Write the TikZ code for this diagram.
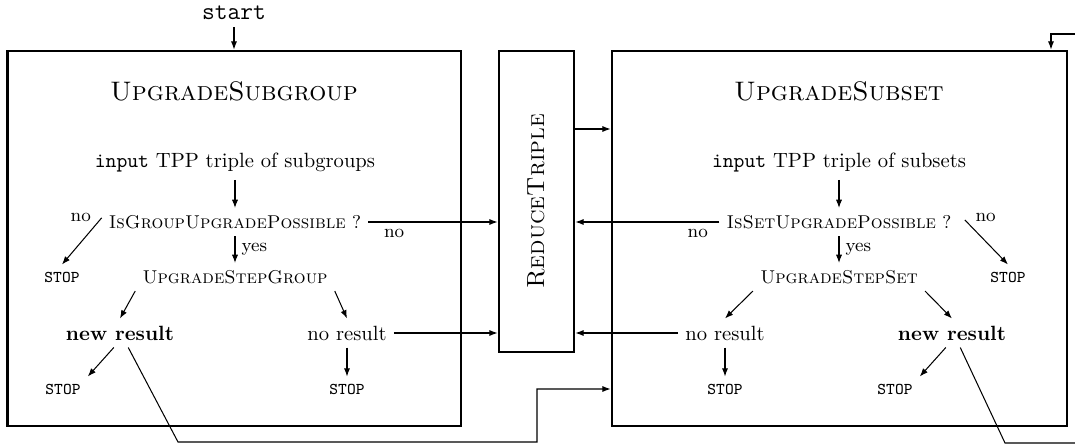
\documentclass[tikz,border=0pt]{standalone}
\usepackage{amsmath}
\usepackage{tikz}
\usetikzlibrary{arrows.meta,fit}

\begin{document}
\begin{tikzpicture}[x=0.485pt,y=-0.485pt,
	bigbox/.style={draw,line width=1.4pt,inner sep=0pt},
	arr/.style={-{Latex[length=4pt,width=3pt]},line width=0.5pt},
	title/.style={font=\fontsize{13}{15}\selectfont},
	proc/.style={font=\small},
	stopnode/.style={font=\footnotesize\ttfamily},
	lbl/.style={font=\small,inner sep=0pt}]
	\useasboundingbox (0,0) rectangle (1075,446);
	% the three frames
	\coordinate (g1) at (7.5,51); \coordinate (g2) at (461,426);
	\coordinate (r1) at (499,51); \coordinate (r2) at (574,352);
	\coordinate (s1) at (612,51); \coordinate (s2) at (1067,426);
	\node[bigbox,fit=(g1)(g2)] (subgroup) {};
	\node[bigbox,fit=(r1)(r2)] (reduce) {};
	\node[bigbox,fit=(s1)(s2)] (subset) {};
	\node[rotate=90,font=\large] (reducename) at (reduce.center) {\textsc{ReduceTriple}};
	% subgroup side
	\node[font=\large\ttfamily] (start) at (234,13) {start};
	\node[title] (titleg) at (234,91) {\textsc{UpgradeSubgroup}};
	\node (ing) at (235,163) {\texttt{input} TPP triple of subgroups};
	\node[proc] (isg) at (235,222) {\textsc{IsGroupUpgradePossible} ?};
	\node[proc] (stepg) at (235,277) {\textsc{UpgradeStepGroup}};
	\node[stopnode] (stopa) at (62,277) {STOP};
	\node[font=\bfseries] (newg) at (120,333) {new result};
	\node (noresg) at (347,333) {no result};
	\node[stopnode] (stopb) at (63,389) {STOP};
	\node[stopnode] (stopc) at (347,389) {STOP};
	% subset side
	\node[title] (titles) at (839,91) {\textsc{UpgradeSubset}};
	\node (ins) at (839,163) {\texttt{input} TPP triple of subsets};
	\node[proc] (iss) at (839,222) {\textsc{IsSetUpgradePossible} ?};
	\node[proc] (steps) at (839,277) {\textsc{UpgradeStepSet}};
	\node[stopnode] (stopd) at (1008,277) {STOP};
	\node (noress) at (725,333) {no result};
	\node[font=\bfseries] (news) at (952,333) {new result};
	\node[stopnode] (stope) at (725,389) {STOP};
	\node[stopnode] (stopf) at (895,389) {STOP};
	% free ends of the loops
	\coordinate (lowg) at (178,442);
	\coordinate (upg) at (537,389);
	\coordinate (lows) at (1005,443);
	\coordinate (tops) at (1075,34);
	% arrows, subgroup side
	\draw[arr] (start) -- (start |- subgroup.north);
	\draw[arr] (ing) -- (isg);
	\draw[arr] (isg) -- node[lbl,right=3pt] {yes} (stepg);
	\draw[arr] ([yshift=2pt]isg.west) -- node[lbl,pos=0,anchor=east,xshift=-5pt] {no} (stopa.north);
	\draw[arr] (isg.east) -- node[lbl,pos=0.2,below=3pt] {no} (isg.east -| reduce.west);
	\draw[arr] (stepg.south west) -- (newg.north);
	\draw[arr] (stepg.south east) -- (noresg.north);
	\draw[arr] (noresg) -- (stopc);
	\draw[arr] (noresg.east) -- (noresg.east -| reduce.west);
	\draw[arr] ([xshift=-3pt]newg.south) -- (stopb.north east);
	\draw[arr] ([xshift=4pt]newg.south) -- (lowg) -| (upg) -- (upg -| subset.west);
	% arrows, subset side
	\draw[arr] (reduce.east |- 0,129) -- (subset.west |- 0,129);
	\draw[arr] (ins) -- (iss);
	\draw[arr] (iss) -- node[lbl,right=3pt] {yes} (steps);
	\draw[arr] ([xshift=3pt,yshift=1pt]iss.east) -- node[lbl,pos=0,anchor=west,xshift=5pt,yshift=1pt] {no} (stopd.north);
	\draw[arr] (iss.west) -- node[lbl,pos=0.15,below=3pt] {no} (iss.west -| reduce.east);
	\draw[arr] (steps.south west) -- (noress.north);
	\draw[arr] (steps.south east) -- (news.north);
	\draw[arr] (noress) -- (stope);
	\draw[arr] (noress.west) -- (noress.west -| reduce.east);
	\draw[arr] ([xshift=-3pt]news.south) -- (stopf.north east);
	\draw[line width=0.5pt] ([xshift=4pt]news.south) -- (lows) -- (lows -| tops);
	\draw[arr] (tops) -| (1051,0 |- subset.north);
\end{tikzpicture}
\end{document}
